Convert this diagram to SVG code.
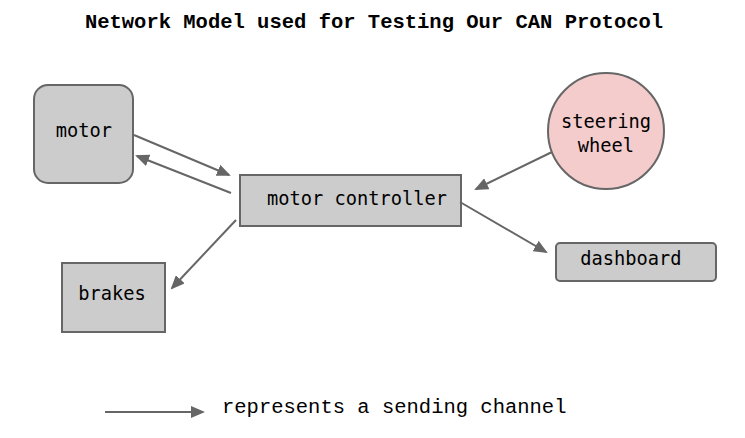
<svg xmlns="http://www.w3.org/2000/svg" width="745" height="438" viewBox="0 0 745 438">
<style>
.node{fill:#cccccc;stroke:#666666;stroke-width:2}
.lbl{font-family:"DejaVu Sans Mono","Liberation Mono",monospace;font-size:18.7px;fill:#000;text-anchor:middle}
.con line{stroke:#666666;stroke-width:2;marker-end:url(#ah)}
</style>
<defs>
<marker id="ah" markerWidth="7" markerHeight="6" refX="6" refY="3" orient="auto" markerUnits="strokeWidth">
<path d="M0,0 L7,3 L0,6 Z" fill="#666666"/>
</marker>
</defs>
<rect width="745" height="438" fill="#ffffff"/>
<text x="374" y="28" font-family="'Liberation Mono',monospace" font-size="20.5" font-weight="bold" text-anchor="middle">Network Model used for Testing Our CAN Protocol</text>
<g id="motor"><rect class="node" x="34" y="85" width="99" height="98" rx="14"/><text class="lbl" x="84" y="137">motor</text></g>
<g id="motor-controller"><rect class="node" x="240" y="175" width="221" height="51"/><text class="lbl" x="357" y="205">motor controller</text></g>
<g id="brakes"><rect class="node" x="62" y="263" width="103" height="69"/><text class="lbl" x="112" y="300">brakes</text></g>
<g id="steering-wheel"><circle cx="606" cy="131" r="58" fill="#f4cccc" stroke="#666666" stroke-width="2"/><text class="lbl" x="606" y="128">steering</text><text class="lbl" x="606" y="152">wheel</text></g>
<g id="dashboard"><rect class="node" x="556" y="243" width="160" height="38" rx="4"/><text class="lbl" x="631" y="265">dashboard</text></g>
<g id="connectors" class="con">
<line x1="134" y1="135" x2="229" y2="175"/>
<line x1="231" y1="193" x2="137" y2="156"/>
<line x1="236" y1="220" x2="172" y2="288"/>
<line x1="552" y1="152" x2="476" y2="189"/>
<line x1="460" y1="202" x2="546" y2="252"/>
<line x1="105" y1="412" x2="203" y2="412"/>
</g>
<text x="222" y="413" font-family="'Liberation Mono',monospace" font-size="20.5">represents a sending channel</text>
</svg>
